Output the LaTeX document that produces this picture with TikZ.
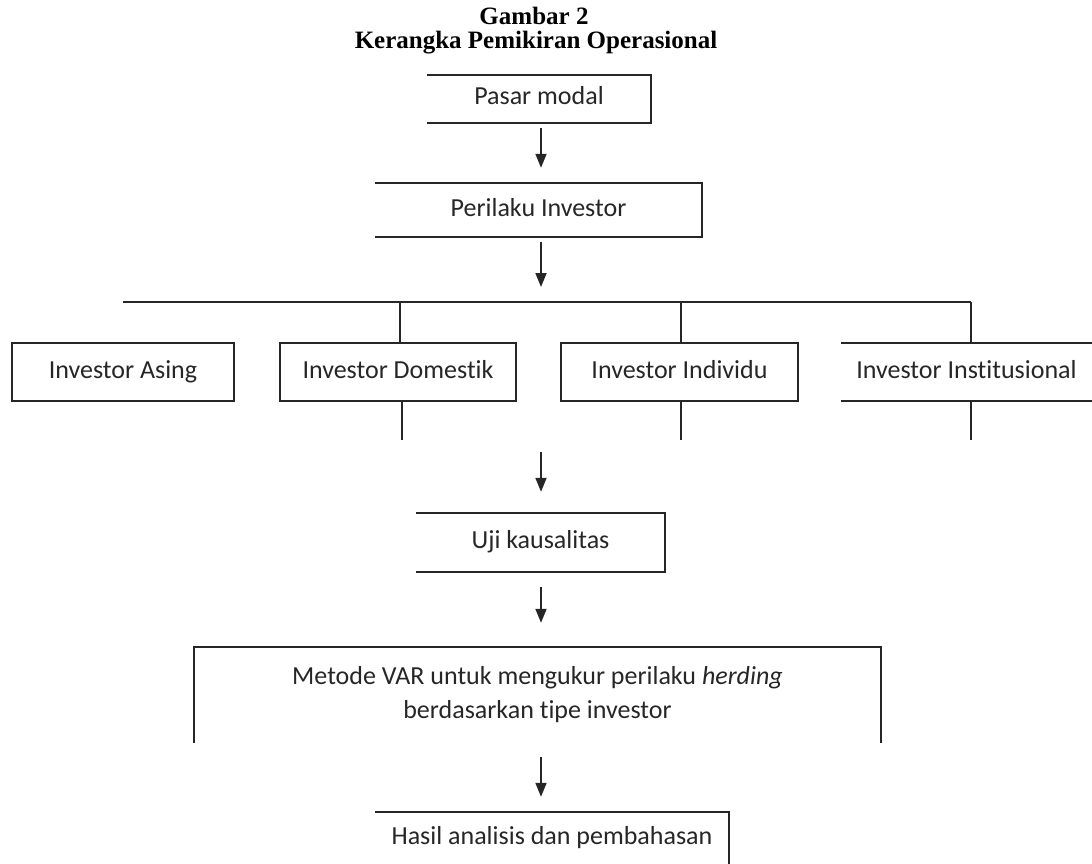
\documentclass[tikz,border=0pt]{standalone}
\usepackage{fontspec}
\setmainfont{Liberation Serif}
\newfontfamily\bodyfont[Ligatures=NoCommon]{Carlito}
\usetikzlibrary{arrows.meta}
\begin{document}
\begin{tikzpicture}[x=1pt,y=-1pt,
  lbl/.style={font=\bodyfont\fontsize{26}{30}\selectfont, text=black!85, inner sep=0pt, text height=17pt, text depth=5pt},
  mlbl/.style={font=\bodyfont\fontsize{26}{34}\selectfont, text=black!85, inner sep=0pt, align=center},
  edge/.style={line width=1.8pt, draw=black!85},
  arr/.style={line width=1.8pt, draw=black!85, -{Triangle[width=11pt,length=14pt]}},
  ttl/.style={font=\bfseries\fontsize{25}{25}\selectfont, inner sep=0pt, anchor=base}]
\useasboundingbox (0,0) rectangle (1092,864);

% title
\node[ttl] (t1) at (534,25) {Gambar 2};
\node[ttl] (t2) at (536,49) {Kerangka Pemikiran Operasional};

% nodes
\node[lbl, minimum width=224pt, minimum height=48pt] (pasar) at (539,99) {Pasar modal};
\node[lbl, minimum width=327pt, minimum height=54pt] (perilaku) at (538.5,210) {Perilaku Investor};
\node[lbl, minimum width=222pt, minimum height=58pt] (asing) at (123,372) {Investor Asing};
\node[lbl, minimum width=236pt, minimum height=58pt] (domestik) at (398,372) {Investor Domestik};
\node[lbl, minimum width=237pt, minimum height=58pt] (individu) at (679.5,372) {Investor Individu};
\node[lbl, minimum width=251pt, minimum height=58pt] (inst) at (966.5,372) {Investor Institusional};
\node[lbl, minimum width=249pt, minimum height=59pt] (uji) at (540.5,542.5) {Uji kausalitas};
\node[mlbl, minimum width=687pt, minimum height=96pt] (var) at (537.5,695) {Metode VAR untuk mengukur perilaku \textit{herding}\\berdasarkan tipe investor};
\node[lbl, minimum width=354pt, minimum height=52pt] (hasil) at (552,838) {Hasil analisis dan pembahasan};

% helper coordinates
\coordinate (ax) at (541,0);
\coordinate (busL) at (123,302);
\coordinate (busR) at (971,302);
\coordinate (stubY) at (0,440);
\coordinate (a3s) at (541,452);

% box outlines (open sides as in the reference)
\draw[edge] (pasar.north west) -- (pasar.north east) -- (pasar.south east) -- (pasar.south west);
\draw[edge] (perilaku.north west) -- (perilaku.north east) -- (perilaku.south east) -- (perilaku.south west);
\draw[edge] (asing.north west) rectangle (asing.south east);
\draw[edge] (domestik.north west) rectangle (domestik.south east);
\draw[edge] (individu.north west) rectangle (individu.south east);
\draw[edge] (inst.north west) -- (inst.north east);
\draw[edge] (inst.south west) -- (inst.south east);
\draw[edge] (uji.north west) -- (uji.north east) -- (uji.south east) -- (uji.south west);
\draw[edge] (var.south west) -- (var.north west) -- (var.north east) -- (var.south east);
\draw[edge] (hasil.north west) -- (hasil.north east) -- (hasil.south east);

% connectors
\draw[arr, shorten <=5pt, shorten >=15pt] (ax |- pasar.south) -- (ax |- perilaku.north);
\draw[arr, shorten <=5pt, shorten >=15pt] (ax |- perilaku.south) -- (ax |- busL);
\draw[edge] (busL) -- (busR);
\draw[edge] (busL -| 400,0) -- (domestik.north -| 400,0);
\draw[edge] (busL -| 681,0) -- (individu.north -| 681,0);
\draw[edge] (busR) -- (busR |- inst.north);
\draw[edge] (domestik.south -| 402,0) -- (stubY -| 402,0);
\draw[edge] (individu.south -| 681,0) -- (stubY -| 681,0);
\draw[edge] (inst.south -| 971,0) -- (stubY -| 971,0);
\draw[arr, shorten >=21pt] (a3s) -- (a3s |- uji.north);
\draw[arr, shorten <=15pt, shorten >=24pt] (ax |- uji.south) -- (ax |- var.north);
\draw[arr, shorten <=14pt, shorten >=15pt] (ax |- var.south) -- (ax |- hasil.north);
\end{tikzpicture}
\end{document}
